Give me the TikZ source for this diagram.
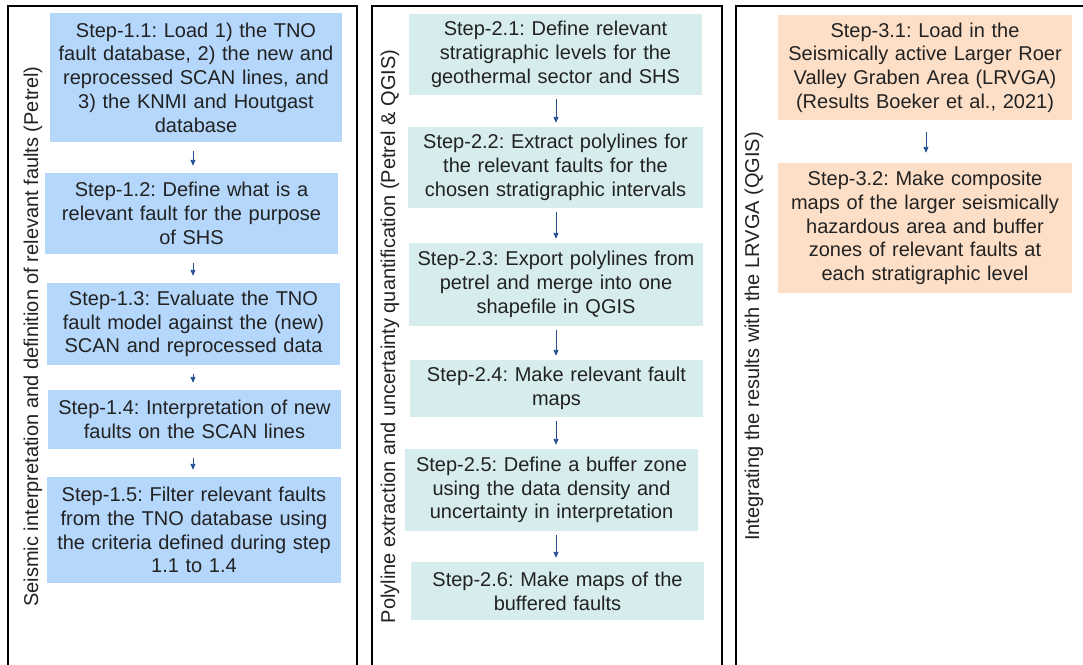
\documentclass[tikz,border=0pt]{standalone}
\usepackage{fontspec}
\setmainfont{Liberation Sans}
\usetikzlibrary{arrows.meta}
\frenchspacing
\definecolor{blueA}{RGB}{180,215,251}
\definecolor{cyanA}{RGB}{214,236,237}
\definecolor{peachA}{RGB}{253,223,199}
\definecolor{arrA}{RGB}{38,80,145}
\definecolor{txtA}{RGB}{34,34,34}
\tikzset{
  stepbox/.style={fill=#1, draw=none, inner xsep=0pt, inner ysep=0pt, align=center,
    text=txtA, font=\fontsize{20}{23.7}\selectfont\frenchspacing},
  panel/.style={draw=black, line width=2pt},
  plabel/.style={rotate=90, text=txtA, font=\fontsize{20}{24}\selectfont\frenchspacing, inner sep=0pt},
  flow/.style={draw=arrA, line width=0.9pt, -{Triangle[length=6pt,width=5pt]}},
}
\begin{document}
\begin{tikzpicture}[x=1pt,y=-1pt]
\useasboundingbox (0,0) rectangle (1083,664);
\clip (0,0) rectangle (1083,664);
\fill[white] (0,0) rectangle (1083,664);
% panels
\draw[panel] (8,700) -- (8,6) -- (357,6) -- (357,700);
\draw[panel] (372,700) -- (372,6) -- (722,6) -- (722,700);
\draw[panel] (736,700) -- (736,6) -- (1110,6) -- (1110,700);
% labels
\node[plabel] (l1) at (33,336.5) {Seismic interpretation and definition of relevant faults (Petrel)};
\node[plabel] (l2) at (390,336.5) {Polyline extraction and uncertainty quantification (Petrel \& QGIS)};
\node[plabel] (l3) at (754,336.5) {Integrating the results with the LRVGA (QGIS)};
% panel 1
\node[stepbox=blueA, text width=292pt, minimum height=129pt] (s11) at (196,77.5)
  {Step-1.1: Load 1) the TNO\\fault database, 2) the new and\\reprocessed SCAN lines, and\\3) the KNMI and Houtgast\\database};
\node[stepbox=blueA, text width=293pt, minimum height=81pt] (s12) at (191.5,213.5)
  {Step-1.2: Define what is a\\relevant fault for the purpose\\of SHS};
\node[stepbox=blueA, text width=293pt, minimum height=82pt] (s13) at (193.5,324)
  {Step-1.3: Evaluate the TNO\\fault model against the (new)\\SCAN and reprocessed data};
\node[stepbox=blueA, text width=293pt, minimum height=59pt] (s14) at (194.5,419.5)
  {Step-1.4: Interpretation of new\\faults on the SCAN lines};
\node[stepbox=blueA, text width=294pt, minimum height=106pt] (s15) at (194,530)
  {Step-1.5: Filter relevant faults\\from the TNO database using\\the criteria defined during step\\1.1 to 1.4};
% panel 2
\node[stepbox=cyanA, text width=293pt, minimum height=81pt] (s21) at (555.5,54.5)
  {Step-2.1: Define relevant\\stratigraphic levels for the\\geothermal sector and SHS};
\node[stepbox=cyanA, text width=295pt, minimum height=81pt] (s22) at (555.5,167.5)
  {Step-2.2: Extract polylines for\\the relevant faults for the\\chosen stratigraphic intervals};
\node[stepbox=cyanA, text width=294pt, minimum height=83pt] (s23) at (556,284.5)
  {Step-2.3: Export polylines from\\petrel and merge into one\\shapefile in QGIS};
\node[stepbox=cyanA, text width=293pt, minimum height=57pt] (s24) at (556.5,388.5)
  {Step-2.4: Make relevant fault\\maps};
\node[stepbox=cyanA, text width=293pt, minimum height=82pt] (s25) at (551.5,490)
  {Step-2.5: Define a buffer zone\\using the data density and\\uncertainty in interpretation};
\node[stepbox=cyanA, text width=293pt, minimum height=58pt] (s26) at (557.5,591)
  {Step-2.6: Make maps of the\\buffered faults};
% panel 3
\node[stepbox=peachA, text width=294pt, minimum height=105pt] (s31) at (925,67.5)
  {Step-3.1: Load in the\\Seismically active Larger Roer\\Valley Graben Area (LRVGA)\\(Results Boeker et al., 2021)};
\node[stepbox=peachA, text width=294pt, minimum height=130pt] (s32) at (925,228)
  {Step-3.2: Make composite\\maps of the larger seismically\\hazardous area and buffer\\zones of relevant faults at\\each stratigraphic level};
% arrows
\foreach \a/\b in {s11/s12,s12/s13,s13/s14,s14/s15}
  \draw[flow, shorten <=9pt, shorten >=7pt] (\a.south -| 193,0) -- (\b.north -| 193,0);
\foreach \a/\b in {s21/s22,s22/s23,s23/s24,s24/s25,s25/s26}
  \draw[flow, shorten <=4pt, shorten >=4pt] (\a.south -| 556,0) -- (\b.north -| 556,0);
\draw[flow, shorten <=12pt, shorten >=10pt] (s31.south -| 926,0) -- (s32.north -| 926,0);
\end{tikzpicture}
\end{document}
